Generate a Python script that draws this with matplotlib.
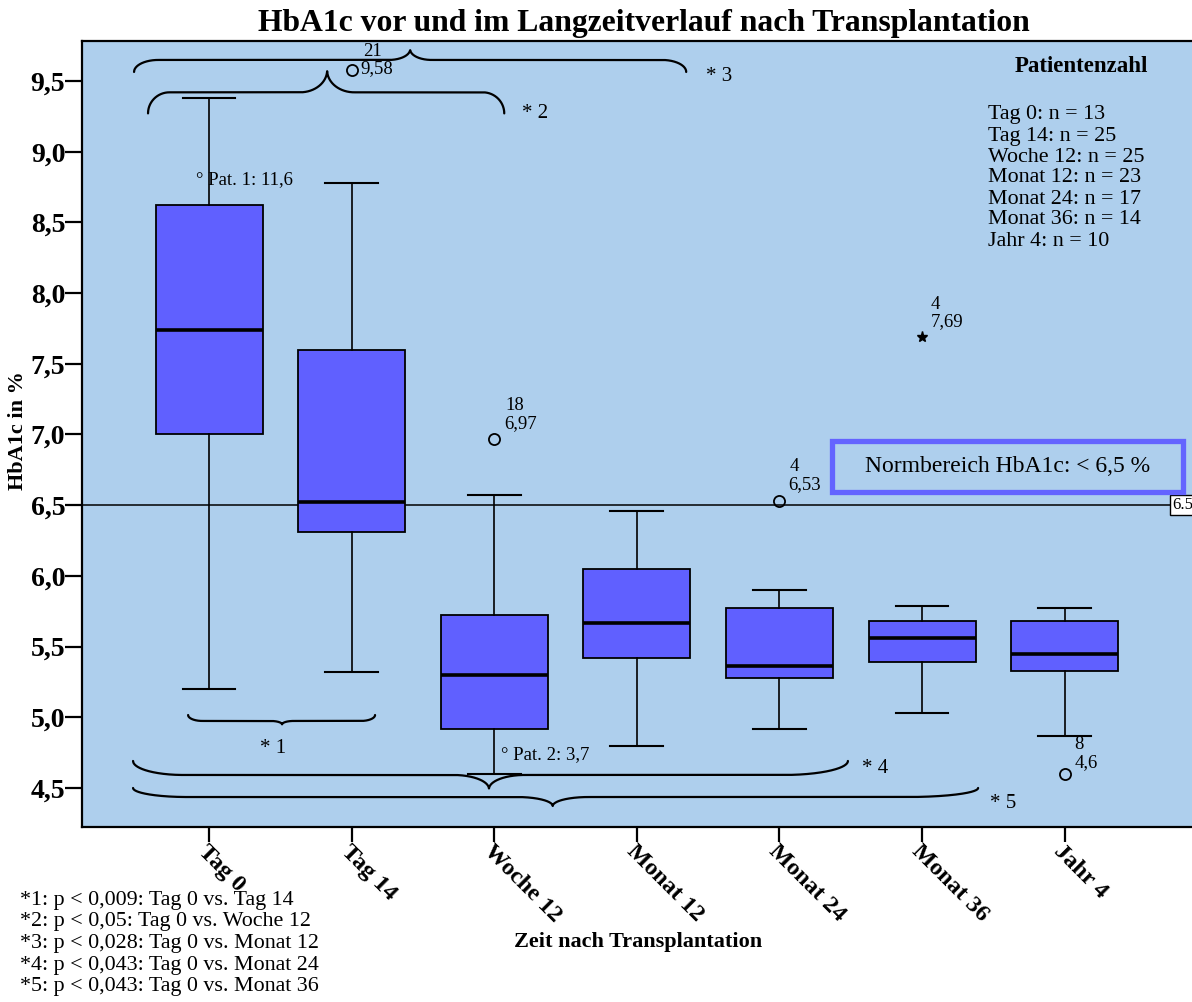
import numpy as np
import matplotlib
matplotlib.use("Agg")
import matplotlib.pyplot as plt
from matplotlib.patches import Rectangle

plt.rcParams['font.family'] = ['Liberation Serif', 'DejaVu Serif']

# --- data -------------------------------------------------------------
groups = ["Tag 0", "Tag 14", "Woche 12", "Monat 12", "Monat 24", "Monat 36", "Jahr 4"]
n_patients = [13, 25, 25, 23, 17, 14, 10]
whis_hi = [9.38, 8.78, 6.57, 6.46, 5.90, 5.79, 5.77]
q3 = [8.62, 7.60, 5.72, 6.05, 5.77, 5.68, 5.68]
median = [7.74, 6.52, 5.30, 5.67, 5.36, 5.56, 5.45]
q1 = [7.00, 6.31, 4.92, 5.42, 5.28, 5.39, 5.33]
whis_lo = [5.20, 5.32, 4.60, 4.80, 4.92, 5.03, 4.87]

# outliers: group index, patient id, value, label offsets (points)
out_group = [1, 2, 4, 6]
out_id = ["21", "18", "4", "8"]
out_val = [9.58, 6.97, 6.53, 4.6]
out_off = [((8, 13), (6.5, 0.5)), ((8, 24), (7, 11)), ((7, 24.5), (6.5, 12)), ((7, 21), (7, 8))]

# extreme value (star)
ext_group = 5
ext_id = "4"
ext_val = 7.69

norm_limit = 6.5

footnotes = [
    "*1: p < 0,009: Tag 0 vs. Tag 14",
    "*2: p < 0,05: Tag 0 vs. Woche 12",
    "*3: p < 0,028: Tag 0 vs. Monat 12",
    "*4: p < 0,043: Tag 0 vs. Monat 24",
    "*5: p < 0,043: Tag 0 vs. Monat 36",
]

BG = '#AECFED'
BOX = '#6060FF'


def brace(ax, x0, x1, xt, y, h_end, h_tip, w_end, w_tip, d, w_end_r=None):
    """horizontal curly brace; d=+1 tip up, d=-1 tip down"""
    if w_end_r is None:
        w_end_r = w_end
    xs = np.linspace(x0, x1, 4000)
    ys = np.full_like(xs, y)
    for xe, sgn, we in ((x0, 1, w_end), (x1, -1, w_end_r)):
        u = 1 - sgn * (xs - xe) / we
        m = (u >= 0) & (u <= 1)
        ys[m] -= d * h_end * (1 - np.sqrt(1 - u[m] ** 2))
    u = 1 - np.abs(xs - xt) / w_tip
    m = u >= 0
    ys[m] += d * h_tip * (1 - np.sqrt(1 - u[m] ** 2))
    ax.plot(xs, ys, color='black', lw=1.6, solid_capstyle='round', zorder=4)


fig = plt.figure(figsize=(11.92, 10.02), dpi=100)
ax = fig.add_axes([82 / 1192, 1 - 827 / 1002, 1116 / 1192, 786 / 1002])
ax.set_facecolor(BG)

stats = []
for i in range(len(groups)):
    fl = [v for g, v in zip(out_group, out_val) if g == i]
    stats.append(dict(med=median[i], q1=q1[i], q3=q3[i],
                      whislo=whis_lo[i], whishi=whis_hi[i], fliers=fl))

ax.bxp(stats, positions=range(len(groups)), widths=0.75, capwidths=0.37,
       patch_artist=True, showfliers=True,
       boxprops=dict(facecolor=BOX, edgecolor='black', linewidth=1.3),
       medianprops=dict(color='black', linewidth=2.6),
       whiskerprops=dict(color='black', linewidth=1.2),
       capprops=dict(color='black', linewidth=1.5),
       flierprops=dict(marker='o', markersize=8, markerfacecolor='none',
                       markeredgecolor='black', markeredgewidth=1.3))

ax.plot([ext_group], [ext_val], marker='*', color='black', markersize=8,
        linestyle='none', zorder=5)

for g, pid, v, (o1, o2) in zip(out_group, out_id, out_val, out_off):
    ax.annotate(pid, (g, v), xytext=o1, textcoords='offset points',
                fontsize=13.5, ha='left', va='center')
    ax.annotate(str(v).replace('.', ','), (g, v), xytext=o2,
                textcoords='offset points', fontsize=13.5, ha='left', va='center')
ax.annotate(ext_id, (ext_group, ext_val), xytext=(6.5, 23), textcoords='offset points',
            fontsize=13.5, ha='left', va='center')
ax.annotate(str(ext_val).replace('.', ','), (ext_group, ext_val), xytext=(6, 11),
            textcoords='offset points', fontsize=13.5, ha='left', va='center')

ax.text(-0.09, 8.80, "° Pat. 1: 11,6", fontsize=13.5, ha='left', va='center')
ax.text(2.05, 4.733, "° Pat. 2: 3,7", fontsize=13.5, ha='left', va='center')

# reference line for the normal range
ax.axhline(norm_limit, color='black', lw=1.1, zorder=1.5)
ax.text(6.755, norm_limit, "6.5", fontsize=12, ha='left', va='center',
        bbox=dict(boxstyle='square,pad=0.12', facecolor='white', edgecolor='black', lw=1))
ax.add_patch(Rectangle((4.369, 6.593), 2.46, 0.361, facecolor='none',
                       edgecolor='#6464FF', lw=3.8, zorder=3))
ax.text(5.6, 6.775, "Normbereich HbA1c: < 6,5 %", fontsize=17, ha='center', va='center')

# significance braces
brace(ax, -0.147, 1.164, 0.512, 4.974, 0.042, 0.025, 0.10, 0.08, -1)
brace(ax, -0.428, 2.07, 0.828, 9.42, 0.149, 0.156, 0.15, 0.19, 1)
brace(ax, -0.526, 3.346, 1.41, 9.649, 0.085, 0.075, 0.17, 0.15, 1)
brace(ax, -0.533, 4.48, 1.963, 4.592, 0.099, 0.099, 0.35, 0.25, -1, 0.45)
brace(ax, -0.533, 5.393, 2.41, 4.436, 0.064, 0.064, 0.38, 0.25, -1, 0.5)
for lbl, x, y in [("* 1", 0.358, 4.78), ("* 2", 2.195, 9.27), ("* 3", 3.485, 9.535),
                  ("* 4", 4.58, 4.64), ("* 5", 5.477, 4.39)]:
    ax.text(x, y, lbl, fontsize=15, ha='left', va='center')

ax.set_xlim(-0.891, 6.935)
ax.set_ylim(4.224, 9.783)
ax.set_xticks(range(len(groups)))
ax.set_xticklabels(groups, rotation=-45, ha='left', va='top', rotation_mode='anchor',
                   fontsize=17.5, fontweight='bold')
yt = np.arange(4.5, 9.51, 0.5)
ax.set_yticks(yt)
ax.set_yticklabels([f"{v:.1f}".replace('.', ',') for v in yt], fontsize=20, fontweight='bold')
ax.tick_params(axis='y', length=12, width=1.6, pad=0)
ax.tick_params(axis='x', length=11, width=1.6, pad=-1)
for s in ax.spines.values():
    s.set_linewidth(1.6)
ax.spines['right'].set_visible(False)

ax.set_ylabel("HbA1c in %", fontsize=16, fontweight='bold')
ax.yaxis.set_label_coords(-0.0484, 0.505)
ax.set_xlabel("Zeit nach Transplantation", fontsize=16, fontweight='bold')
ax.xaxis.set_label_coords(0.498, -0.1336)

fig.text(644 / 1192, 1 - 24 / 1002, "HbA1c vor und im Langzeitverlauf nach Transplantation",
         fontsize=22.8, fontweight='bold', ha='center', va='center')

# patient counts
fig.text(1081 / 1192, 1 - 67 / 1002, "Patientenzahl", fontsize=16.5, fontweight='bold',
         ha='center', va='center')
for k, (g, n) in enumerate(zip(groups, n_patients)):
    fig.text(988 / 1192, 1 - (115 + 21 * k) / 1002, f"{g}: n = {n}", fontsize=15.8,
             ha='left', va='center')

for k, t in enumerate(footnotes):
    fig.text(20 / 1192, 1 - (900 + 21.7 * k) / 1002, t, fontsize=15.8, ha='left', va='center')

fig.savefig("out.png", dpi=100, facecolor='white')
